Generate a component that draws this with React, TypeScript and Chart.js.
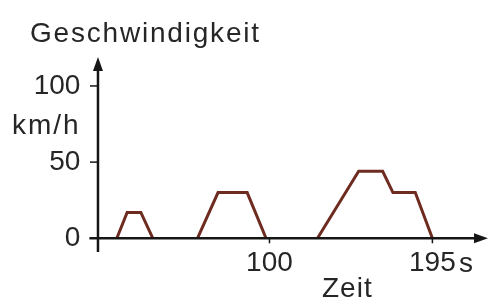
import React, { useEffect, useRef } from "react";
import { Chart, registerables } from "chart.js";

Chart.register(...registerables);

// Data
const timesSec = [0, 11, 17, 25, 32, 58, 70, 87, 98, 128, 152, 166, 172, 185, 195];
const speedKmh = [0, 0, 17, 17, 0, 0, 30, 30, 0, 0, 44, 44, 30, 30, 0];
const yTickValues = [0, 50, 100];
const xTickValues = [100, 195];

const yTitle = "Geschwindigkeit";
const yUnit = "km/h";
const xTitle = "Zeit";
const xUnit = "s";

const FONT = "'Liberation Sans', Arial, Helvetica, sans-serif";
const TEXT = "#262626";
const AXIS = "#161616";
const LINE = "#6e2b20";

const axesPlugin = {
  id: "arrowAxes",
  afterDatasetsDraw(chart: any) {
    const { ctx, scales } = chart;
    const xs = scales.x;
    const ys = scales.y;
    const x0 = xs.getPixelForValue(0);
    const y0 = ys.getPixelForValue(0);
    const top = chart.chartArea.top;
    const bottom = chart.chartArea.bottom;
    const left = chart.chartArea.left;
    const right = chart.chartArea.right;
    ctx.save();
    ctx.strokeStyle = AXIS;
    ctx.fillStyle = AXIS;
    ctx.lineWidth = 2.5;
    // y axis
    ctx.beginPath();
    ctx.moveTo(x0, bottom);
    ctx.lineTo(x0, top + 8);
    ctx.stroke();
    ctx.beginPath();
    ctx.moveTo(x0, top);
    ctx.lineTo(x0 - 5, top + 14);
    ctx.lineTo(x0 + 5, top + 14);
    ctx.closePath();
    ctx.fill();
    // x axis
    ctx.beginPath();
    ctx.moveTo(left, y0);
    ctx.lineTo(right - 8, y0);
    ctx.stroke();
    ctx.beginPath();
    ctx.moveTo(right - 1, y0);
    ctx.lineTo(right - 15, y0 - 5);
    ctx.lineTo(right - 15, y0 + 5);
    ctx.closePath();
    ctx.fill();
    // ticks
    ctx.lineWidth = 1.5;
    yTickValues.forEach((v) => {
      if (v === 0) return;
      const y = ys.getPixelForValue(v);
      ctx.beginPath();
      ctx.moveTo(x0 - 8, y);
      ctx.lineTo(x0, y);
      ctx.stroke();
    });
    xTickValues.forEach((v) => {
      const x = xs.getPixelForValue(v);
      ctx.beginPath();
      ctx.moveTo(x, y0);
      ctx.lineTo(x, y0 + 5);
      ctx.stroke();
    });
    // texts
    ctx.fillStyle = TEXT;
    ctx.textAlign = "left";
    ctx.textBaseline = "alphabetic";
    ctx.font = `28px ${FONT}`;
    (ctx as any).letterSpacing = "1.8px";
    ctx.fillText(yTitle, 30, 42);
    (ctx as any).letterSpacing = "2px";
    ctx.fillText(yUnit, 12, 134);
    (ctx as any).letterSpacing = "1px";
    ctx.fillText(xTitle, 322, 297);
    (ctx as any).letterSpacing = "0px";
    ctx.fillText(xUnit, 459, 272);
    ctx.restore();
  },
};

export default function App() {
  const ref = useRef<HTMLCanvasElement | null>(null);
  useEffect(() => {
    if (!ref.current) return;
    const chart = new Chart(ref.current, {
      type: "line",
      data: {
        datasets: [
          {
            data: timesSec.map((t, i) => ({ x: t, y: speedKmh[i] })),
            borderColor: LINE,
            borderWidth: 3,
            pointRadius: 0,
            tension: 0,
            fill: false,
            segment: {
              borderColor: (c: any) =>
                c.p0.parsed.y === 0 && c.p1.parsed.y === 0 ? "rgba(0,0,0,0)" : LINE,
            },
          },
        ],
      },
      options: {
        animation: false,
        responsive: false,
        devicePixelRatio: 1,
        layout: { padding: { top: 57, right: 0, bottom: 0, left: 0 } },
        plugins: { legend: { display: false }, tooltip: { enabled: false } },
        scales: {
          x: {
            type: "linear",
            min: -5,
            max: 228,
            grid: { display: false, drawTicks: false },
            border: { display: false },
            afterFit: (s: any) => {
              s.height = 48;
            },
            afterBuildTicks: (s: any) => {
              s.ticks = xTickValues.map((v) => ({ value: v }));
            },
            ticks: {
              padding: -6,
              color: TEXT,
              font: { family: FONT, size: 28 },
              maxRotation: 0,
              autoSkip: false,
            },
          },
          y: {
            type: "linear",
            min: -9,
            max: 119,
            grid: { display: false, drawTicks: false },
            border: { display: false },
            afterFit: (s: any) => {
              s.width = 89.4;
            },
            afterBuildTicks: (s: any) => {
              s.ticks = yTickValues.map((v) => ({ value: v }));
            },
            ticks: {
              padding: 9,
              color: TEXT,
              font: { family: FONT, size: 28 },
              autoSkip: false,
            },
          },
        },
      },
      plugins: [axesPlugin],
    } as any);
    return () => chart.destroy();
  }, []);
  return (
    <div style={{ position: "fixed", left: 0, top: 0, width: 489, height: 300, background: "#fff" }}>
      <canvas ref={ref} width={489} height={300} />
    </div>
  );
}
